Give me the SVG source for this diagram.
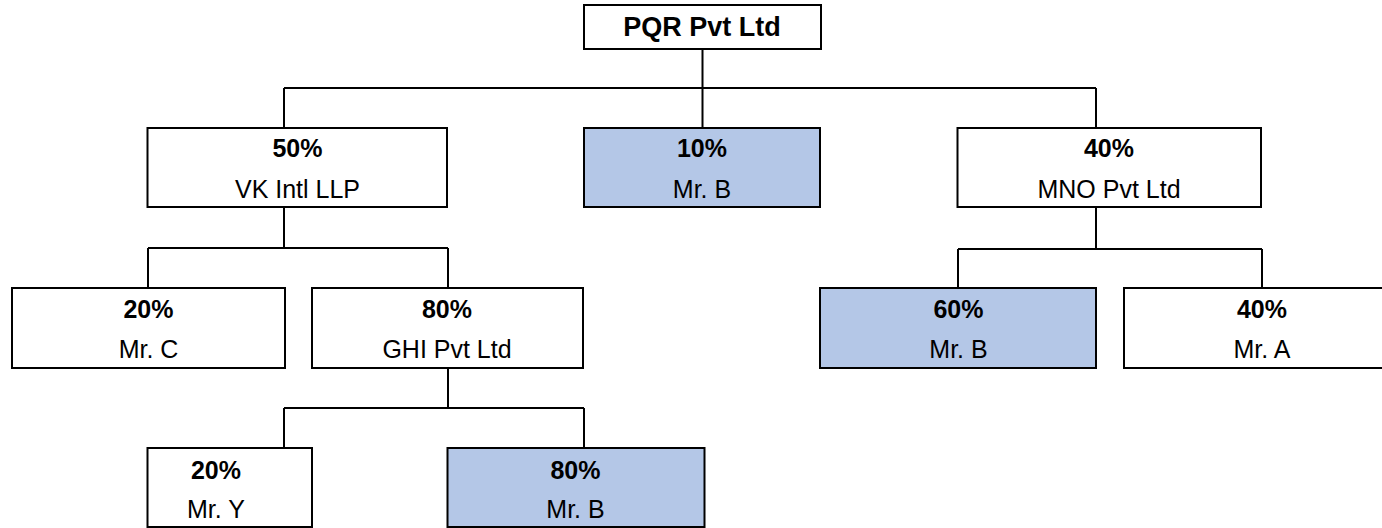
<svg xmlns="http://www.w3.org/2000/svg" width="1382" height="528" viewBox="0 0 1382 528">
<style>
.box{fill:#ffffff;stroke:#000000;stroke-width:2}
.hl{fill:#b4c7e7;stroke:#000000;stroke-width:2}
.pct{font-family:"Liberation Sans",Arial,sans-serif;font-size:25px;font-weight:bold;text-anchor:middle;fill:#000000}
.nm{font-family:"Liberation Sans",Arial,sans-serif;font-size:25px;text-anchor:middle;fill:#000000}
.title{font-family:"Liberation Sans",Arial,sans-serif;font-size:27px;font-weight:bold;text-anchor:middle;fill:#000000}
.conn{fill:none;stroke:#000000;stroke-width:2}
</style>
<rect width="1382" height="528" fill="#ffffff"/>
<g id="connectors" class="conn">
<path d="M702.5 49V88M284 88H1096M284 88V128M702.5 88V128M1096 88V128"/>
<path d="M284 207V248M148 248H448M148 248V288M448 248V288"/>
<path d="M1096 207V249M958 249H1262M958 249V288M1262 249V288"/>
<path d="M448 368V408M284 408H584M284 408V448M584 408V448"/>
</g>
<g id="pqr">
<rect class="box" x="584" y="5" width="237" height="44"/>
<text class="title" x="702" y="36">PQR Pvt Ltd</text>
</g>
<g id="vk">
<rect class="box" x="147.5" y="128" width="299.5" height="79"/>
<text class="pct" x="297.5" y="157">50%</text>
<text class="nm" x="297.5" y="197.5">VK Intl LLP</text>
</g>
<g id="mrb10">
<rect class="hl" x="584" y="128" width="236" height="79"/>
<text class="pct" x="702" y="157">10%</text>
<text class="nm" x="702" y="197.5">Mr. B</text>
</g>
<g id="mno">
<rect class="box" x="957.5" y="128" width="303.5" height="79"/>
<text class="pct" x="1109" y="157">40%</text>
<text class="nm" x="1109" y="197.5">MNO Pvt Ltd</text>
</g>
<g id="mrc">
<rect class="box" x="12" y="288" width="273" height="80"/>
<text class="pct" x="148.5" y="318">20%</text>
<text class="nm" x="148.5" y="358">Mr. C</text>
</g>
<g id="ghi">
<rect class="box" x="312" y="288" width="271" height="80"/>
<text class="pct" x="447" y="318">80%</text>
<text class="nm" x="447" y="358">GHI Pvt Ltd</text>
</g>
<g id="mrb60">
<rect class="hl" x="820" y="288" width="276" height="80"/>
<text class="pct" x="958.5" y="318">60%</text>
<text class="nm" x="958.5" y="358">Mr. B</text>
</g>
<g id="mra">
<rect class="box" x="1124" y="288" width="280" height="80"/>
<text class="pct" x="1262" y="318">40%</text>
<text class="nm" x="1262" y="358">Mr. A</text>
</g>
<g id="mry">
<rect class="box" x="147.5" y="448" width="164.5" height="79"/>
<text class="pct" x="216" y="479">20%</text>
<text class="nm" x="216" y="518">Mr. Y</text>
</g>
<g id="mrb80">
<rect class="hl" x="447.5" y="448" width="257" height="79"/>
<text class="pct" x="575.5" y="479">80%</text>
<text class="nm" x="575.5" y="518">Mr. B</text>
</g>
</svg>
